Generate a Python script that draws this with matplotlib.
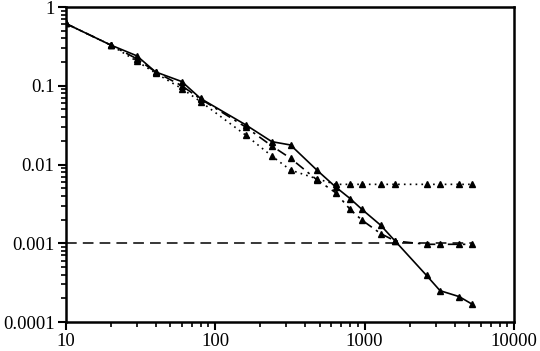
import matplotlib
matplotlib.use('Agg')
import matplotlib.pyplot as plt
from matplotlib.ticker import FixedLocator, LogLocator, NullFormatter

# ── data ───────────────────────────────────────────────────────────────────
x = [10, 20, 30, 40, 60, 80, 160, 240, 320, 480, 640, 800, 960, 1280,
     1600, 2600, 3200, 4300, 5200]

solid = [0.62, 0.33, 0.24, 0.15, 0.113, 0.069, 0.032, 0.0195, 0.0177,
         0.0085, 0.0052, 0.0037, 0.0027, 0.0017, 0.00107, 0.00039,
         0.00025, 0.00021, 0.00017]
dashdot = [0.62, 0.33, 0.22, 0.15, 0.10, 0.068, 0.030, 0.0172, 0.012,
           0.0064, 0.0044, 0.0027, 0.00197, 0.00133, 0.00107, 0.00097,
           0.00097, 0.00097, 0.00097]
dotted = [0.62, 0.33, 0.205, 0.145, 0.092, 0.063, 0.0237, 0.0128, 0.0085,
          0.0066, 0.0056, 0.0056, 0.0056, 0.0056, 0.0056, 0.0056,
          0.0056, 0.0056, 0.0056]
ref_level = 0.001

xticks = [10, 100, 1000, 10000]
xlabels = ['10', '100', '1000', '10000']
yticks = [0.0001, 0.001, 0.01, 0.1, 1]
ylabels = ['0.0001', '0.001', '0.01', '0.1', '1']

plt.rcParams['font.family'] = ['Liberation Serif', 'DejaVu Serif']

fig = plt.figure(figsize=(5.4, 3.51), dpi=100)
ax = fig.add_axes([0.1213, 0.0826, 0.8306, 0.8974])

ax.plot([x[0], x[-1]], [ref_level, ref_level], color='black', lw=1.1,
        linestyle=(0, (7, 4)))
mk = dict(marker='^', markersize=4.5, color='black', lw=1.2)
ax.plot(x, dotted, linestyle=(0, (1, 2.5)), **mk)
ax.plot(x, dashdot, linestyle=(0, (6, 3, 1.5, 3)), **mk)
ax.plot(x, solid, linestyle='-', **mk)

ax.set_xscale('log')
ax.set_yscale('log')
ax.set_xlim(10, 10000)
ax.set_ylim(0.0001, 1)

ax.xaxis.set_major_locator(FixedLocator(xticks))
ax.set_xticklabels(xlabels)
ax.yaxis.set_major_locator(FixedLocator(yticks))
ax.set_yticklabels(ylabels)
ax.xaxis.set_minor_locator(LogLocator(base=10, subs=range(2, 10)))
ax.yaxis.set_minor_locator(LogLocator(base=10, subs=range(2, 10)))
ax.xaxis.set_minor_formatter(NullFormatter())
ax.yaxis.set_minor_formatter(NullFormatter())

for s in ax.spines.values():
    s.set_linewidth(1.8)
ax.tick_params(which='major', direction='out', length=6, width=1.5,
               labelsize=13.5, top=False, right=False, pad=2)
ax.tick_params(which='minor', direction='out', length=3.5, width=1.2,
               top=False, right=False)

fig.savefig('out.png', dpi=100)
